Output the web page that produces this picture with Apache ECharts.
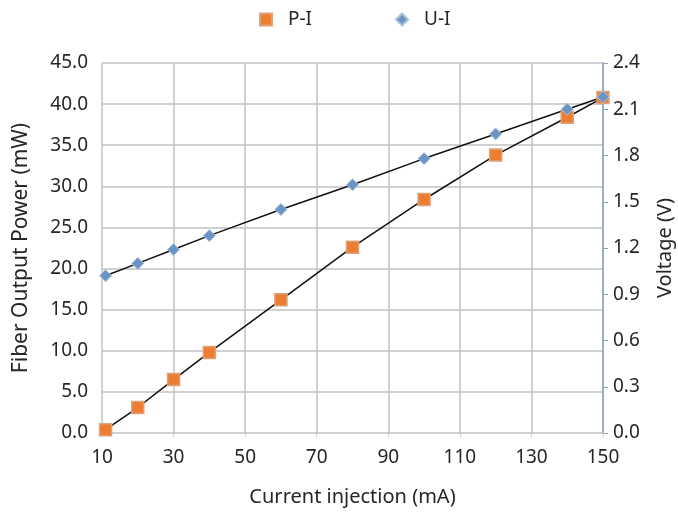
<!DOCTYPE html>
<html><head><meta charset="utf-8">
<script src="https://cdn.jsdelivr.net/npm/echarts@6/dist/echarts.min.js"></script>
<style>html,body{margin:0;padding:0;background:#fff}#c{width:678px;height:515px}</style>
</head><body><div id="c"></div>
<script>
const current = [11, 20, 30, 40, 60, 80, 100, 120, 140, 150];
const power = [0.4, 3.1, 6.5, 9.8, 16.2, 22.6, 28.4, 33.8, 38.4, 40.8];
const voltage = [1.02, 1.10, 1.19, 1.28, 1.45, 1.61, 1.78, 1.94, 2.10, 2.18];
const xTicks = [10, 30, 50, 70, 90, 110, 130, 150];

const font = 'Noto Sans';
const txt = '#262626';
const chart = echarts.init(document.getElementById('c'));
chart.setOption({
  animation: false,
  textStyle: {fontFamily: font},
  legend: {
    top: 5, left: 254, itemGap: 83, itemWidth: 12, itemHeight: 12,
    textStyle: {fontSize: 19, color: txt, fontFamily: font, padding: [0, 0, 0, 11]},
    data: [{name: 'P-I', icon: 'rect'}, {name: 'U-I', icon: 'diamond'}]
  },
  grid: {left: 102, right: 75, top: 63, bottom: 82, containLabel: false, outerBoundsMode: 'none'},
  xAxis: {
    type: 'value', min: 10, max: 150, interval: 20,
    name: 'Current injection (mA)', nameLocation: 'middle', nameGap: 54,
    nameTextStyle: {fontSize: 20, color: txt},
    axisLine: {show: false},
    axisTick: {show: true, length: 4, lineStyle: {color: '#d0d0d0'}},
    axisLabel: {fontSize: 19, color: txt, margin: 15,
      formatter: v => xTicks.includes(v) ? String(v) : ''},
    splitLine: {show: true, lineStyle: {color: '#c2c2c2', width: 1.5}}
  },
  yAxis: [{
    type: 'value', min: 0, max: 45, interval: 5, position: 'left',
    name: 'Fiber Output Power (mW)', nameLocation: 'middle', nameGap: 70,
    nameTextStyle: {fontSize: 21, color: txt},
    axisLine: {show: false}, axisTick: {show: false},
    axisLabel: {fontSize: 19, color: txt, margin: 14, formatter: v => v.toFixed(1)},
    splitLine: {show: true, lineStyle: {color: '#c2c2c2', width: 1.5}}
  }, {
    type: 'value', min: 0, max: 2.4, interval: 0.3, position: 'right',
    name: 'Voltage (V)', nameLocation: 'middle', nameGap: 52,
    nameTextStyle: {fontSize: 20, color: txt},
    axisLine: {show: true, lineStyle: {color: '#8aa4bd', width: 1.5}},
    axisTick: {show: true, length: 5, lineStyle: {color: '#8aa4bd'}},
    axisLabel: {fontSize: 19, color: txt, margin: 10, formatter: v => v.toFixed(1)},
    splitLine: {show: false}
  }],
  series: [{
    name: 'P-I', type: 'line', yAxisIndex: 0,
    data: current.map((x, i) => [x, power[i]]),
    symbol: 'rect', symbolSize: 12,
    itemStyle: {color: '#ed7d31', borderColor: '#dca27a', borderWidth: 1.5},
    lineStyle: {color: '#111', width: 1.5}, z: 3
  }, {
    name: 'U-I', type: 'line', yAxisIndex: 1,
    data: current.map((x, i) => [x, voltage[i]]),
    symbol: 'diamond', symbolSize: 12,
    itemStyle: {color: '#6b93c4', borderColor: '#a9c1dd', borderWidth: 1},
    lineStyle: {color: '#111', width: 1.5}, z: 3
  }]
});
</script></body></html>
